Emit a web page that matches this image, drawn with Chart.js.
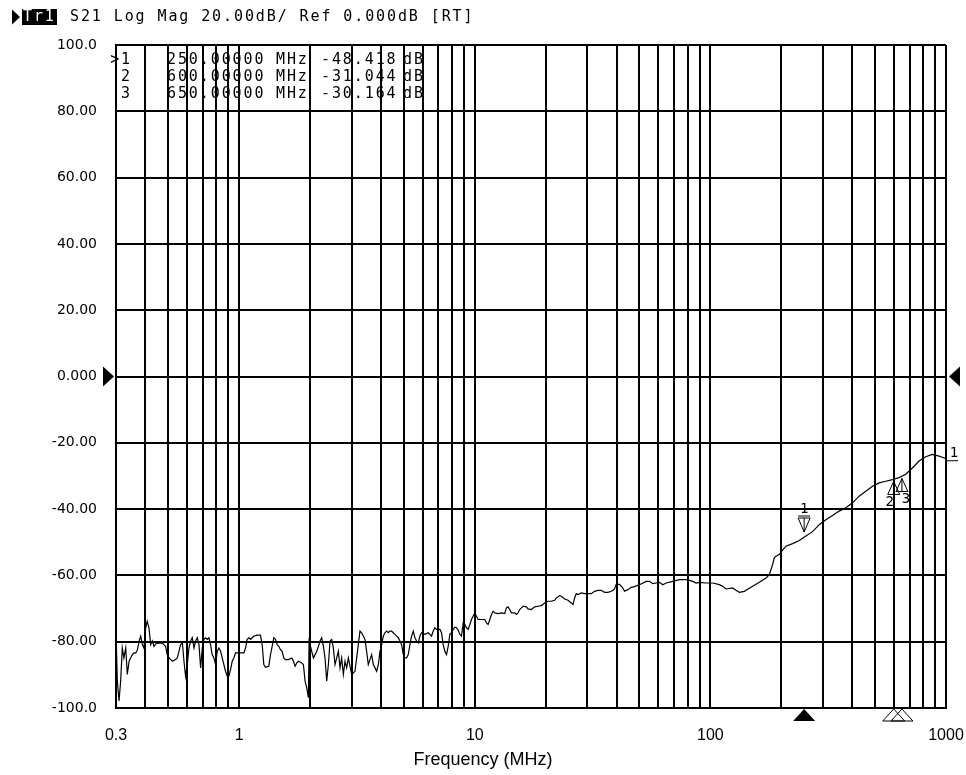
<!DOCTYPE html>
<html><head><meta charset="utf-8">
<script src="https://cdn.jsdelivr.net/npm/chart.js@4.4.1/dist/chart.umd.min.js"></script>
<style>html,body{margin:0;padding:0;background:#fff;}#wrap{width:966px;height:775px;}</style>
</head><body><div id="wrap"><canvas id="c" width="966" height="775"></canvas></div>
<script>
// ---- data ----
const freqMHz = [
0.301,0.304,0.309,0.314,0.319,0.324,0.330,0.335,0.341,0.346,0.352,0.358,0.364,0.370,0.376,0.382,0.388,0.394,0.401,0.407,
0.414,0.421,0.428,0.435,0.442,0.457,0.472,0.479,0.487,0.495,0.504,0.520,0.537,0.546,0.555,0.564,0.574,0.583,0.592,0.602,
0.612,0.622,0.632,0.643,0.653,0.664,0.675,0.686,0.697,0.708,0.720,0.732,0.744,0.756,0.768,0.781,0.794,0.807,0.820,0.834,
0.847,0.875,0.890,0.904,0.919,0.934,0.949,0.965,0.997,1.047,1.064,1.081,1.099,1.117,1.135,1.154,1.192,1.231,1.252,1.272,
1.293,1.336,1.358,1.380,1.403,1.426,1.449,1.473,1.497,1.521,1.546,1.571,
1.618,1.672,1.699,1.727,1.755,1.784,1.843,1.873,1.904,1.935,1.967,1.980,1.999,2.032,2.065,2.099,2.134,2.169,2.204,2.240,
2.277,2.314,2.352,2.391,2.430,2.470,2.510,2.551,2.593,2.636,2.679,2.723,2.767,2.813,2.859,2.906,2.953,3.002,3.051,3.101,
3.152,3.204,3.256,3.310,3.364,3.419,3.475,3.532,3.590,3.649,3.709,3.770,3.832,3.895,3.959,4.024,4.090,4.157,4.225,4.294,
4.364,4.436,4.509,4.583,4.658,4.734,4.812,4.891,4.971,5.052,5.135,5.219,5.305,5.392,5.480,5.570,5.661,5.754,5.848,5.944,
6.140,6.343,6.553,6.660,6.769,6.881,6.993,7.108,7.225,7.343,7.464,7.586,7.710,7.837,7.965,8.096,8.229,8.364,
8.50,8.64,8.78,8.93,9.07,9.22,9.37,9.53,9.68,9.84,10.0,10.16,10.33,10.67,11.03,11.21,11.39,11.58,11.77,11.96,
12.15,12.56,12.97,13.40,13.62,13.84,14.07,14.30,14.77,15.02,15.26,15.51,15.77,16.03,16.56,16.83,17.39,17.96,18.56,19.17,
19.80,20.45,21.13,21.83,22.19,22.93,23.30,24.06,24.86,25.68,26.11,26.53,26.97,27.41,28.31,29.26,30.22,31.22,32.25,33.32,
34.42,35.55,36.73,37.94,38.57,39.19,39.83,41.15,42.51,43.21,44.64,46.12,47.64,
50.03,53.40,55.14,56.96,58.85,60.79,62.81,64.88,69.25,73.90,78.88,81.47,84.17,86.97,89.84,95.86,102.3,109.2,112.8,116.5,
124.3,128.5,132.7,139.4,141.6,151.1,161.3,172.2,177.8,183.7,186.7,189.8,196.0,202.5,209.2,223.3,238.4,246.3,254.4,271.4,
289.7,309.2,329.9,352.1,375.8,401.0,428.0,456.7,487.4,520.2,555.1,592.5,632.3,674.8,720.2,768.6,820.2,875.4,934.0,1000
];
const s21dB = [
-80.9,-91.9,-97.9,-91.9,-81.9,-84.9,-81.9,-89.9,-85.9,-84.9,-83.9,-83.4,-83.4,-82.4,-79.8,-78.3,-80.9,-81.9,-75.8,-73.8,
-75.8,-80.9,-79.8,-81.4,-80.7,-80.4,-80.4,-80.9,-81.4,-83.9,-84.9,-85.9,-85.4,-84.9,-82.9,-80.9,-80.4,-85.9,-90.4,-86.9,
-81.9,-79.8,-78.8,-81.9,-79.8,-78.8,-80.9,-87.9,-81.9,-79.3,-78.8,-79.3,-78.8,-80.9,-83.9,-84.9,-86.9,-82.9,-81.9,-82.9,
-84.9,-88.9,-90.4,-90.4,-88.4,-85.9,-84.9,-83.4,-83.4,-83.4,-81.9,-79.3,-78.8,-79.3,-78.8,-78.3,-78.0,-78.0,-80.9,-86.9,
-87.7,-87.4,-83.9,-81.4,-78.8,-79.3,-80.9,-81.4,-82.4,-82.9,-84.9,-85.4,
-85.4,-84.9,-85.9,-87.4,-86.4,-85.9,-86.4,-86.9,-91.9,-93.9,-96.9,-79.8,-80.9,-82.9,-84.9,-83.9,-82.9,-81.4,-79.8,-78.8,
-81.4,-84.9,-91.9,-86.9,-79.8,-79.3,-81.9,-86.9,-84.9,-82.9,-87.9,-84.9,-89.9,-85.9,-87.9,-84.9,-87.4,-89.9,-89.4,-88.9,
-84.9,-80.9,-76.8,-77.3,-78.3,-79.3,-82.9,-86.9,-85.4,-83.9,-86.9,-87.9,-88.9,-86.9,-82.9,-80.9,-78.3,-77.3,-76.8,-77.3,
-76.8,-76.8,-77.3,-77.8,-78.3,-78.8,-79.8,-80.9,-83.9,-84.9,-84.9,-83.9,-80.9,-78.3,-76.8,-78.8,-79.8,-80.4,-78.3,-77.3,
-77.8,-77.3,-78.3,-76.8,-75.8,-76.3,-76.3,-76.3,-77.3,-80.9,-82.9,-83.9,-81.4,-77.8,-77.3,-76.3,-75.6,-75.8,
-76.5,-77.8,-78.3,-74.3,-74.8,-75.8,-76.3,-74.8,-73.3,-72.3,-71.3,-72.3,-73.3,-73.3,-73.3,-74.3,-74.8,-73.3,-71.8,-70.8,
-71.3,-71.5,-71.3,-71.5,-69.8,-69.5,-70.3,-71.3,-71.3,-71.8,-71.3,-70.3,-69.8,-69.3,-69.5,-70.1,-70.3,-69.5,-69.3,-69.1,
-68.3,-67.8,-67.8,-67.5,-66.8,-66.1,-66.3,-67.1,-67.5,-68.3,-68.8,-66.8,-65.5,-65.8,-65.3,-65.5,-65.5,-65.5,-64.8,-64.5,
-64.5,-65.1,-65.1,-64.8,-64.5,-64.1,-62.7,-62.7,-63.8,-64.8,-64.3,-63.6,-63.4,
-62.8,-61.8,-61.8,-62.5,-62.3,-62.1,-62.8,-62.3,-61.8,-61.3,-61.3,-61.5,-61.8,-62.3,-62.1,-62.3,-62.3,-62.8,-63.3,-64.1,
-63.8,-64.5,-65.1,-64.8,-64.5,-63.3,-62.1,-60.8,-59.8,-56.7,-54.7,-54.2,-53.7,-52.4,-51.2,-50.4,-49.5,-48.8,-48.1,-46.8,
-44.7,-43.2,-41.9,-40.6,-39.6,-38.1,-36.1,-34.6,-33.1,-32.1,-31.6,-31.1,-30.5,-29.5,-27.6,-25.5,-24.2,-23.5,-24.0,-24.8
];
const xGridValues = [0.3,0.4,0.5,0.6,0.7,0.8,0.9,1,2,3,4,5,6,7,8,9,10,20,30,40,50,60,70,80,90,
  100,200,300,400,500,600,700,800,900,1000];
const xLabelValues = [0.3,1,10,100,1000];
const xLabelTexts = ['0.3','1','10','100','1000'];
const xTitle = 'Frequency (MHz)';
const yTickValues = [100,80,60,40,20,0,-20,-40,-60,-80,-100];
const yTickLabels = ['100.0','80.00','60.00','40.00','20.00','0.000','-20.00','-40.00','-60.00','-80.00','-100.0'];
const markerIds = ['1','2','3'];
const markerFreqMHz = [250,600,650];
const markerDB = [-48.418,-31.044,-30.164];
const traceName = 'Tr1';
const headerText = 'S21 Log Mag 20.00dB/ Ref 0.000dB [RT]';
const refLevelDB = 0;
const traceEndLabel = '1';

const MONO = '"DejaVu Sans Mono", "Liberation Mono", monospace';
const SANS = '"Liberation Sans", Arial, sans-serif';
const VERD = '"DejaVu Sans", Verdana, sans-serif';

function tri(ctx, pts, fill) {
  ctx.beginPath(); ctx.moveTo(pts[0][0], pts[0][1]);
  for (let i = 1; i < pts.length; i++) ctx.lineTo(pts[i][0], pts[i][1]);
  ctx.closePath();
  if (fill) ctx.fill(); else ctx.stroke();
}

const overlay = {
  id: 'overlay',
  beforeDraw(chart) {
    const ctx = chart.ctx;
    ctx.save();
    ctx.fillStyle = '#fff';
    ctx.fillRect(0, 0, chart.width, chart.height);
    ctx.fillStyle = '#000';
    ctx.font = '15px ' + MONO;
    ctx.letterSpacing = '1.9px';
    ctx.textBaseline = 'middle';
    ctx.textAlign = 'left';
    // header
    const hy = 17;
    tri(ctx, [[12, hy - 7.5], [20, hy], [12, hy + 7.5]], true);
    ctx.fillRect(22, hy - 8, 35, 16);
    ctx.fillStyle = '#fff';
    ctx.fillText(traceName, 23, hy);
    ctx.fillStyle = '#000';
    ctx.fillText(headerText, 70, hy);
    // marker table
    const rowY = [60, 77, 94];
    markerIds.forEach((id, i) => {
      const y = rowY[i];
      ctx.textAlign = 'right';
      ctx.fillText((i === 0 ? '>' : '') + id, 132, y);
      ctx.textAlign = 'left';
      ctx.fillText(markerFreqMHz[i].toFixed(5), 167, y);
      ctx.fillText('MHz', 276, y);
      ctx.fillText(markerDB[i].toFixed(3), 321, y);
      ctx.fillText('dB', 403, y);
    });
    ctx.restore();
  },
  afterDatasetsDraw(chart) {
    const ctx = chart.ctx;
    const xs = chart.scales.x, ys = chart.scales.y, ca = chart.chartArea;
    ctx.save();
    ctx.strokeStyle = '#000'; ctx.fillStyle = '#000'; ctx.lineWidth = 1;
    ctx.font = '14px ' + MONO;
    ctx.textAlign = 'center'; ctx.textBaseline = 'middle';
    markerIds.forEach((id, i) => {
      const px = xs.getPixelForValue(markerFreqMHz[i]);
      const py = ys.getPixelForValue(markerDB[i]);
      if (i === 0) {
        tri(ctx, [[px - 6, py - 19], [px + 6, py - 19], [px, py - 5]], false);
        ctx.beginPath(); ctx.moveTo(px, py - 19); ctx.lineTo(px, py - 5); ctx.stroke();
        ctx.beginPath(); ctx.moveTo(px - 6, py - 21); ctx.lineTo(px + 6, py - 21); ctx.stroke();
        ctx.fillText(id, px, py - 28);
      } else {
        tri(ctx, [[px, py + 2], [px + 6, py + 15], [px - 6, py + 15]], false);
        ctx.beginPath(); ctx.moveTo(px, py + 2); ctx.lineTo(px, py + 15); ctx.stroke();
        ctx.fillText(id, px + (i === 1 ? -4 : 4), py + 23);
      }
      // marker indicators under the x axis
      const b = ca.bottom;
      tri(ctx, [[px, b + 1], [px + 11, b + 13], [px - 11, b + 13]], i === 0);
    });
    // reference level arrows
    const ry = ys.getPixelForValue(refLevelDB);
    tri(ctx, [[ca.left - 2, ry], [ca.left - 13, ry - 10], [ca.left - 13, ry + 10]], true);
    tri(ctx, [[ca.right + 3, ry], [ca.right + 14, ry - 10], [ca.right + 14, ry + 10]], true);
    // trace end label
    const ly = ys.getPixelForValue(s21dB[s21dB.length - 1]);
    ctx.beginPath(); ctx.moveTo(ca.right, ly + 2); ctx.lineTo(ca.right + 12, ly + 2); ctx.stroke();
    ctx.fillText(traceEndLabel, ca.right + 8, ly - 5);
    // x-axis title, centred on the page like the reference
    ctx.font = '18px ' + SANS;
    ctx.fillText(xTitle, chart.width / 2, 760);
    ctx.restore();
  }
};

const points = freqMHz.map((f, i) => ({ x: f, y: s21dB[i] }));

new Chart(document.getElementById('c'), {
  type: 'scatter',
  data: { datasets: [{
    data: points, showLine: true, borderColor: '#000', borderWidth: 1.2,
    pointRadius: 0, pointHoverRadius: 0, tension: 0, fill: false
  }]},
  options: {
    responsive: false, animation: false, events: [],
    layout: { padding: { top: 45, right: 20, left: 0, bottom: 0 } },
    plugins: { legend: { display: false }, tooltip: { enabled: false } },
    scales: {
      x: {
        type: 'logarithmic', min: 0.3, max: 1000,
        afterBuildTicks: (s) => { s.ticks = xGridValues.map(v => ({ value: v })); },
        afterFit: (s) => { s.height = 67; s.paddingRight = 0; s.paddingLeft = 0; },
        grid: { color: '#000', lineWidth: 2, drawTicks: false },
        border: { display: true, color: '#000', width: 2 },
        ticks: {
          autoSkip: false, maxRotation: 0, minRotation: 0, padding: 18, color: '#000',
          font: { family: SANS, size: 16 },
          callback: (v) => { const k = xLabelValues.indexOf(v); return k >= 0 ? xLabelTexts[k] : ''; }
        },
        title: { display: false }
      },
      y: {
        min: -100, max: 100,
        afterBuildTicks: (s) => { s.ticks = yTickValues.map(v => ({ value: v })); },
        afterFit: (s) => { s.width = 116; },
        grid: { color: '#000', lineWidth: 2, drawTicks: false },
        border: { display: true, color: '#000', width: 2 },
        ticks: {
          padding: 19, color: '#000',
          font: { family: VERD, size: 14 },
          callback: (v) => { const k = yTickValues.indexOf(v); return k >= 0 ? yTickLabels[k] : ''; }
        }
      }
    }
  },
  plugins: [overlay]
});
</script></body></html>
